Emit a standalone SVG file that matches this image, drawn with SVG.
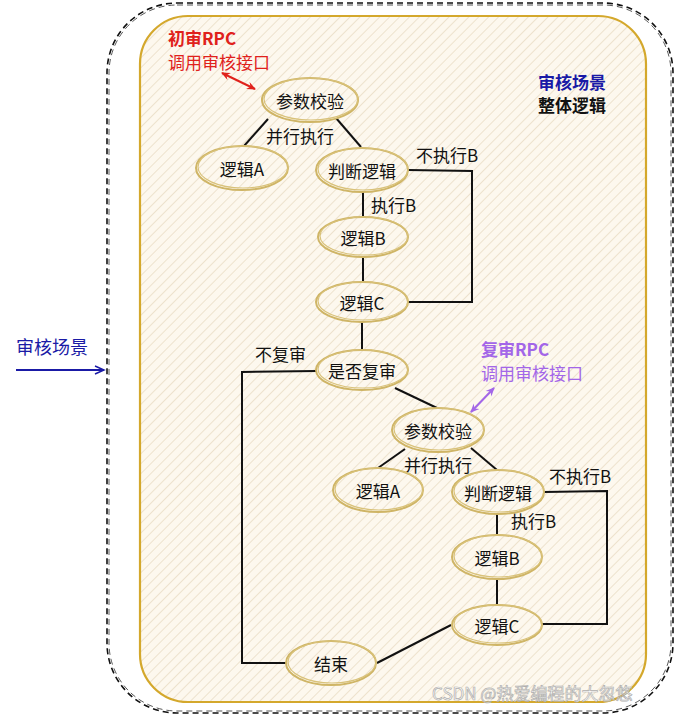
<svg xmlns="http://www.w3.org/2000/svg" width="678" height="717" viewBox="0 0 678 717">
<defs>
<pattern id="hatch" patternUnits="userSpaceOnUse" width="7" height="7" patternTransform="rotate(45)">
<rect width="7" height="7" fill="#fdf8ee"/>
<line x1="0" y1="0" x2="0" y2="7" stroke="#e8dbc2" stroke-width="1.5"/>
</pattern>
<marker id="openArrow" markerWidth="12" markerHeight="10" refX="10" refY="5" orient="auto" markerUnits="userSpaceOnUse">
<path d="M1,1 L10,5 L1,9" fill="none" stroke="#1a1aa6" stroke-width="1.5"/>
</marker>
<marker id="redHead" markerWidth="10" markerHeight="10" refX="8" refY="5" orient="auto-start-reverse" markerUnits="userSpaceOnUse">
<path d="M0,1 L9,5 L0,9 L3,5 Z" fill="#e0211b"/>
</marker>
<marker id="purpleHead" markerWidth="10" markerHeight="10" refX="8" refY="5" orient="auto-start-reverse" markerUnits="userSpaceOnUse">
<path d="M0,1 L9,5 L0,9 L3,5 Z" fill="#a366e8"/>
</marker>
</defs>
<style>
text { font-family: "Noto Sans CJK SC", "Liberation Sans", sans-serif; font-size: 17px; fill: #111; }
.node ellipse.a { fill: url(#hatch); stroke: #cfb566; stroke-width: 2; }
.node ellipse.b { fill: none; stroke: #d9c27a; stroke-width: 1.2; }
.node text { text-anchor: middle; dominant-baseline: central; }
.conn path, .conn line { fill: none; stroke: #111; stroke-width: 2; }
.red { fill: #e0211b; }
.purple { fill: #a366e8; }
.blue { fill: #1a1aa6; }
.bold { font-weight: bold; }
</style>

<!-- outer dashed boundary -->
<rect x="107" y="3" width="566" height="710" rx="70" ry="70" fill="none" stroke="#111" stroke-width="1.6" stroke-dasharray="6 4"/>
<rect x="109" y="5" width="562" height="706" rx="68" ry="68" fill="none" stroke="#111" stroke-width="1" stroke-dasharray="6 4" opacity="0.7"/>

<!-- inner gold container -->
<rect x="140" y="16" width="506" height="686" rx="48" ry="48" fill="url(#hatch)" stroke="#d4a82c" stroke-width="2.2"/>

<!-- left scene label -->
<text x="16" y="354" class="blue" style="font-size:18px">审核场景</text>
<line x1="16" y1="370" x2="104" y2="370" stroke="#1a1aa6" stroke-width="2" marker-end="url(#openArrow)"/>

<!-- annotations -->
<text x="168" y="45" class="red bold">初审RPC</text>
<text x="168" y="69" class="red">调用审核接口</text>
<line x1="222" y1="73" x2="255" y2="89" stroke="#e0211b" stroke-width="2" marker-start="url(#redHead)" marker-end="url(#redHead)"/>

<text x="538" y="89" class="blue bold">审核场景</text>
<text x="538" y="112" class="bold">整体逻辑</text>

<text x="481" y="356" class="purple bold">复审RPC</text>
<text x="481" y="380" class="purple">调用审核接口</text>
<line x1="494" y1="388" x2="471" y2="412" stroke="#a366e8" stroke-width="2" marker-start="url(#purpleHead)" marker-end="url(#purpleHead)"/>

<!-- connectors -->
<g id="connectors" class="conn">
<line x1="268" y1="119" x2="244" y2="146"/>
<line x1="336" y1="118" x2="361" y2="147"/>
<path d="M408,170 L472,171 L472,302 L408,302"/>
<line x1="363" y1="192" x2="363" y2="217"/>
<line x1="363" y1="257" x2="363" y2="282"/>
<line x1="362" y1="322" x2="362" y2="350"/>
<path d="M317,371 L242,372 L242,663 L286,663"/>
<line x1="395" y1="388" x2="437" y2="408"/>
<line x1="405" y1="449" x2="378" y2="468"/>
<line x1="471" y1="448" x2="497" y2="470"/>
<path d="M544,492 L607,491 L607,624 L542,624"/>
<line x1="497" y1="514" x2="497" y2="535"/>
<line x1="497" y1="580" x2="497" y2="604"/>
<line x1="451" y1="625" x2="377" y2="663"/>
</g>

<!-- connector labels -->
<text x="266" y="143">并行执行</text>
<text x="416" y="162">不执行B</text>
<text x="371" y="212">执行B</text>
<text x="255" y="361">不复审</text>
<text x="404" y="472">并行执行</text>
<text x="549" y="483">不执行B</text>
<text x="511" y="528">执行B</text>

<!-- nodes -->
<g id="n-check1" class="node">
<ellipse class="a" cx="310" cy="100" rx="48" ry="22"/>
<ellipse class="b" cx="311" cy="99" rx="47" ry="21"/>
<text x="310" y="100">参数校验</text>
</g>
<g id="n-logicA1" class="node">
<ellipse class="a" cx="242" cy="168" rx="46" ry="22"/>
<ellipse class="b" cx="243" cy="167" rx="45" ry="21"/>
<text x="242" y="168">逻辑A</text>
</g>
<g id="n-judge1" class="node">
<ellipse class="a" cx="362" cy="170" rx="46" ry="22"/>
<ellipse class="b" cx="363" cy="169" rx="45" ry="21"/>
<text x="362" y="170">判断逻辑</text>
</g>
<g id="n-logicB1" class="node">
<ellipse class="a" cx="363" cy="237" rx="45" ry="20"/>
<ellipse class="b" cx="364" cy="236" rx="44" ry="19"/>
<text x="363" y="237">逻辑B</text>
</g>
<g id="n-logicC1" class="node">
<ellipse class="a" cx="362" cy="302" rx="46" ry="20"/>
<ellipse class="b" cx="363" cy="301" rx="45" ry="19"/>
<text x="362" y="302">逻辑C</text>
</g>
<g id="n-review" class="node">
<ellipse class="a" cx="362" cy="370" rx="46" ry="20"/>
<ellipse class="b" cx="363" cy="369" rx="45" ry="19"/>
<text x="362" y="370">是否复审</text>
</g>
<g id="n-check2" class="node">
<ellipse class="a" cx="438" cy="430" rx="46" ry="22"/>
<ellipse class="b" cx="439" cy="429" rx="45" ry="21"/>
<text x="438" y="430">参数校验</text>
</g>
<g id="n-logicA2" class="node">
<ellipse class="a" cx="378" cy="490" rx="45" ry="22"/>
<ellipse class="b" cx="379" cy="489" rx="44" ry="21"/>
<text x="378" y="490">逻辑A</text>
</g>
<g id="n-judge2" class="node">
<ellipse class="a" cx="498" cy="492" rx="46" ry="22"/>
<ellipse class="b" cx="499" cy="491" rx="45" ry="21"/>
<text x="498" y="492">判断逻辑</text>
</g>
<g id="n-logicB2" class="node">
<ellipse class="a" cx="497" cy="557" rx="45" ry="22"/>
<ellipse class="b" cx="498" cy="556" rx="44" ry="21"/>
<text x="497" y="557">逻辑B</text>
</g>
<g id="n-logicC2" class="node">
<ellipse class="a" cx="497" cy="625" rx="45" ry="20"/>
<ellipse class="b" cx="498" cy="624" rx="44" ry="19"/>
<text x="497" y="625">逻辑C</text>
</g>
<g id="n-end" class="node">
<ellipse class="a" cx="331" cy="663" rx="45" ry="22"/>
<ellipse class="b" cx="332" cy="662" rx="44" ry="21"/>
<text x="331" y="663">结束</text>
</g>

<!-- watermark -->
<text x="432" y="700" style="font-size:17px; fill:#ffffff; stroke:#a8a8a8; stroke-width:0.7; opacity:0.9">CSDN @热爱编程的大忽悠</text>
</svg>
